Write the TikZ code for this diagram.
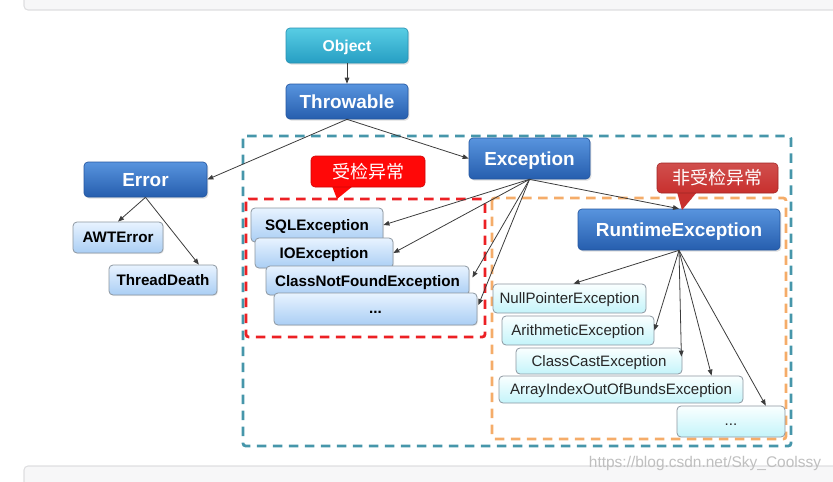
\documentclass[tikz,border=0pt]{standalone}
\usepackage{fontspec}
\setmainfont{Liberation Sans}
\newfontfamily\cjk{Noto Sans CJK SC}
\usetikzlibrary{arrows.meta,shadows,calc}
\definecolor{cyanT}{RGB}{88,205,228}
\definecolor{cyanB}{RGB}{38,158,195}
\definecolor{cyanD}{RGB}{40,145,178}
\definecolor{blueT}{RGB}{88,148,222}
\definecolor{blueB}{RGB}{38,94,174}
\definecolor{blueD}{RGB}{36,86,160}
\definecolor{ltT}{RGB}{232,243,255}
\definecolor{ltB}{RGB}{170,206,244}
\definecolor{cyT}{RGB}{250,255,255}
\definecolor{cyB}{RGB}{196,244,250}
\definecolor{boxD}{RGB}{140,150,160}
\definecolor{tealD}{RGB}{70,150,170}
\definecolor{redD}{RGB}{236,32,36}
\definecolor{orgD}{RGB}{245,172,105}
\definecolor{calloutA}{RGB}{255,8,8}
\definecolor{calloutB}{RGB}{200,48,46}
\definecolor{lineC}{RGB}{60,60,60}
\definecolor{panel}{RGB}{247,247,248}
\definecolor{panelD}{RGB}{222,222,224}
\begin{document}
\begin{tikzpicture}[x=0.75pt,y=-0.75pt,
  bluebox/.style={rounded corners=3pt, draw=blueD, line width=0.5pt,
    top color=blueT, bottom color=blueB, text=white, font=\bfseries\fontsize{14.2}{16}\selectfont,
    inner sep=0pt, text depth=0pt, drop shadow={opacity=0.25, shadow xshift=1pt, shadow yshift=-1.2pt}},
  cyanbox/.style={bluebox, draw=cyanD, top color=cyanT, bottom color=cyanB,
    font=\bfseries\fontsize{11.8}{14}\selectfont},
  ltbox/.style={rounded corners=3pt, draw=boxD, line width=0.6pt,
    top color=ltT, bottom color=ltB, text=black, font=\bfseries\fontsize{11.4}{14}\selectfont,
    inner sep=0pt, text depth=0pt, drop shadow={opacity=0.15, shadow xshift=0.8pt, shadow yshift=-0.8pt}},
  cybox/.style={rounded corners=3pt, draw=boxD, line width=0.6pt,
    top color=cyT, bottom color=cyB, text=black!85, font=\fontsize{11.3}{14}\selectfont,
    inner sep=0pt, text depth=0pt},
  dots/.style={text height=6pt, text depth=0pt},
  callout/.style={rounded corners=3pt, inner sep=0pt, text=white,
    font=\cjk\fontsize{13.5}{15}\selectfont},
  conn/.style={draw=lineC, line width=0.6pt, -{Triangle[length=4.5pt,width=3.5pt]}},
  dashbox/.style={line width=2.1pt, dash pattern=on 7pt off 5pt, rounded corners=2pt}
]
\useasboundingbox (0,0) rectangle (833,482);
\clip (0,0) rectangle (833,482);
% background panels
\draw[fill=panel, draw=panelD, line width=0.8pt, rounded corners=3pt] (24,-20) rectangle (860,10);
\draw[fill=panel, draw=panelD, line width=0.8pt, rounded corners=3pt] (24,466) rectangle (860,500);
\node[text=black!25, font=\fontsize{11.6}{13}\selectfont, inner sep=0pt] (wm) at (705,463) {https://blog.csdn.net/Sky\_Coolssy};

% dashed groups
\draw[dashbox, draw=tealD] (243,136) rectangle (791,446);
\draw[dashbox, draw=redD] (246,199) rectangle (485,337);
\draw[dashbox, draw=orgD] (492,198) rectangle (786,439);

% nodes
\node[cyanbox, minimum width=91.5pt, minimum height=26.25pt] (obj) at (347,45.5) {Object};
\node[bluebox, minimum width=91.5pt, minimum height=26.25pt] (thr) at (347,101.5) {Throwable};
\node[bluebox, minimum width=92.25pt, minimum height=26.25pt] (err) at (145.5,179.5) {Error};
\node[ltbox, minimum width=67.5pt, minimum height=23.25pt] (awt) at (118,237.5) {AWTError};
\node[ltbox, minimum width=81pt, minimum height=22.5pt] (td) at (163,280) {ThreadDeath};
\node[bluebox, minimum width=90.75pt, minimum height=30.75pt] (exc) at (529.5,158.5) {Exception};
\node[bluebox, minimum width=151.5pt, minimum height=30.75pt] (rt) at (679,229.5) {RuntimeException};

\node[ltbox, minimum width=99pt, minimum height=25.5pt] (sql) at (317,225) {SQLException};
\node[ltbox, minimum width=103.5pt, minimum height=22.5pt] (io) at (324,253) {IOException};
\node[ltbox, minimum width=152.25pt, minimum height=21.75pt] (cnf) at (367.5,280.5) {ClassNotFoundException};
\node[ltbox, dots, minimum width=152.25pt, minimum height=24pt] (d1) at (375.5,309) {...};

\node[cybox, minimum width=114.75pt, minimum height=21.75pt] (np) at (569.5,298.5) {NullPointerException};
\node[cybox, minimum width=114pt, minimum height=21.75pt] (ar) at (578,330.5) {ArithmeticException};
\node[cybox, minimum width=124.5pt, minimum height=19.5pt] (cc) at (599,361) {ClassCastException};
\node[cybox, minimum width=183pt, minimum height=20.25pt] (ai) at (621,389.5) {ArrayIndexOutOfBundsException};
\node[cybox, dots, minimum width=81pt, minimum height=23.25pt] (d2) at (731,421.5) {...};

% callouts
\fill[calloutA] (332,186) -- (353,186) -- (337,199) -- cycle;
\node[callout, fill=calloutA, draw=calloutA!80!black, line width=0.4pt, minimum width=85.5pt, minimum height=23.25pt] (c1) at (368,171.5) {受检异常};
\fill[calloutB] (677,192) -- (697,192) -- (682,210) -- cycle;
\node[callout, top color=calloutB!85!white, bottom color=calloutB, draw=calloutB!80!black, line width=0.4pt, minimum width=90.75pt, minimum height=22.5pt] (c2) at (717.5,178) {非受检异常};

% connectors
\draw[conn] (obj.south) -- (thr.north);
\draw[conn] (thr.south) -- (err.east);
\draw[conn] (thr.south) -- (exc.west);
\draw[conn] (err.south) -- (awt.north);
\draw[conn] (err.south) -- ($(td.north west)!0.83!(td.north east)$);
\draw[conn] (exc.south) -- (sql.east);
\draw[conn] (exc.south) -- (io.east);
\draw[conn] (exc.south) -- ($(cnf.east)+(3,-3)$);
\draw[conn] (exc.south) -- ($(d1.east)+(1,-4)$);
\draw[conn] (exc.south) -- (rt.north);
\draw[conn] (rt.south) -- ($(np.north)+(4,0)$);
\draw[conn] (rt.south) -- (ar.east);
\draw[conn] (rt.south) -- ($(cc.north east)+(-1,9)$);
\draw[conn] (rt.south) -- ($(ai.north west)!0.87!(ai.north east)$);
\draw[conn] (rt.south) -- ($(d2.north west)!0.82!(d2.north east)$);
\end{tikzpicture}
\end{document}
